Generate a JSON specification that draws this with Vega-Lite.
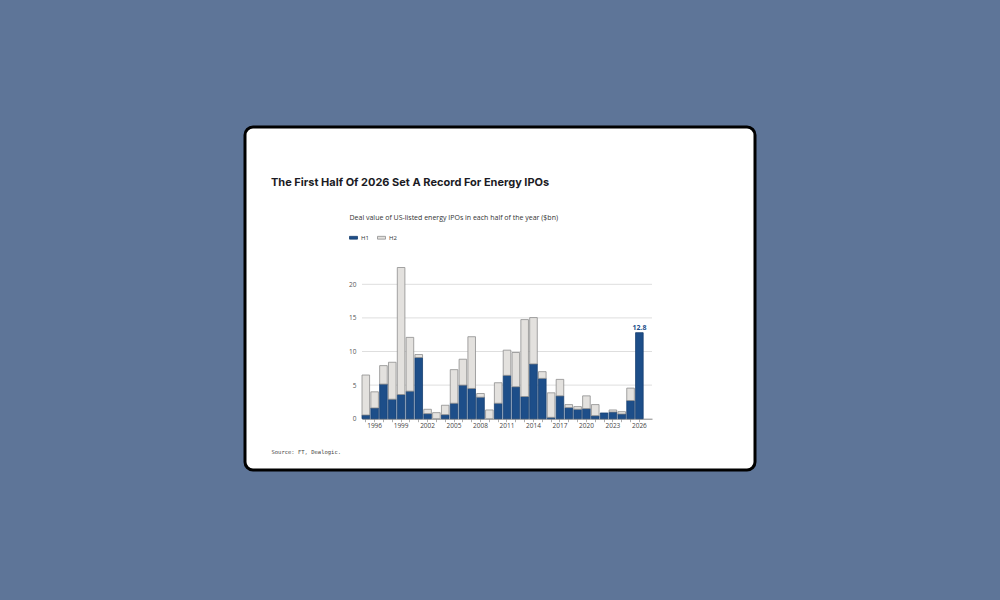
{
  "$schema": "https://vega.github.io/schema/vega-lite/v6.json",
  "width": 510,
  "height": 343,
  "autosize": {"type": "none"},
  "padding": {"left": 245, "top": 127, "right": 245, "bottom": 130},
  "background": "#5e7598",
  "view": {"fill": "#ffffff", "stroke": "#000000", "strokeWidth": 3, "cornerRadius": 8},
  "title": {
    "text": "The First Half Of 2026 Set A Record For Energy IPOs",
    "anchor": "start",
    "frame": "group",
    "dx": 26,
    "offset": -61,
    "font": "Inter",
    "fontSize": 11,
    "fontWeight": "bold",
    "color": "#1b1b24"
  },
  "datasets": {
    "ipo": [
      {"year": 1995, "half": "H1", "value": 0.55}, {"year": 1995, "half": "H2", "value": 5.95},
      {"year": 1996, "half": "H1", "value": 1.6}, {"year": 1996, "half": "H2", "value": 2.4},
      {"year": 1997, "half": "H1", "value": 5.15}, {"year": 1997, "half": "H2", "value": 2.75},
      {"year": 1998, "half": "H1", "value": 2.9}, {"year": 1998, "half": "H2", "value": 5.5},
      {"year": 1999, "half": "H1", "value": 3.6}, {"year": 1999, "half": "H2", "value": 18.9},
      {"year": 2000, "half": "H1", "value": 4.1}, {"year": 2000, "half": "H2", "value": 8.0},
      {"year": 2001, "half": "H1", "value": 9.1}, {"year": 2001, "half": "H2", "value": 0.45},
      {"year": 2002, "half": "H1", "value": 0.75}, {"year": 2002, "half": "H2", "value": 0.65},
      {"year": 2003, "half": "H2", "value": 0.9},
      {"year": 2004, "half": "H1", "value": 0.6}, {"year": 2004, "half": "H2", "value": 1.4},
      {"year": 2005, "half": "H1", "value": 2.3}, {"year": 2005, "half": "H2", "value": 5.0},
      {"year": 2006, "half": "H1", "value": 5.0}, {"year": 2006, "half": "H2", "value": 3.85},
      {"year": 2007, "half": "H1", "value": 4.5}, {"year": 2007, "half": "H2", "value": 7.7},
      {"year": 2008, "half": "H1", "value": 3.2}, {"year": 2008, "half": "H2", "value": 0.55},
      {"year": 2009, "half": "H2", "value": 1.3},
      {"year": 2010, "half": "H1", "value": 2.3}, {"year": 2010, "half": "H2", "value": 3.05},
      {"year": 2011, "half": "H1", "value": 6.45}, {"year": 2011, "half": "H2", "value": 3.75},
      {"year": 2012, "half": "H1", "value": 4.75}, {"year": 2012, "half": "H2", "value": 5.1},
      {"year": 2013, "half": "H1", "value": 3.3}, {"year": 2013, "half": "H2", "value": 11.45},
      {"year": 2014, "half": "H1", "value": 8.15}, {"year": 2014, "half": "H2", "value": 6.9},
      {"year": 2015, "half": "H1", "value": 6.0}, {"year": 2015, "half": "H2", "value": 1.0},
      {"year": 2016, "half": "H1", "value": 0.2}, {"year": 2016, "half": "H2", "value": 3.65},
      {"year": 2017, "half": "H1", "value": 3.4}, {"year": 2017, "half": "H2", "value": 2.45},
      {"year": 2018, "half": "H1", "value": 1.65}, {"year": 2018, "half": "H2", "value": 0.45},
      {"year": 2019, "half": "H1", "value": 1.4}, {"year": 2019, "half": "H2", "value": 0.4},
      {"year": 2020, "half": "H1", "value": 1.5}, {"year": 2020, "half": "H2", "value": 1.9},
      {"year": 2021, "half": "H1", "value": 0.45}, {"year": 2021, "half": "H2", "value": 1.65},
      {"year": 2022, "half": "H1", "value": 0.85},
      {"year": 2023, "half": "H1", "value": 1.0}, {"year": 2023, "half": "H2", "value": 0.3},
      {"year": 2024, "half": "H1", "value": 0.7}, {"year": 2024, "half": "H2", "value": 0.35},
      {"year": 2025, "half": "H1", "value": 2.7}, {"year": 2025, "half": "H2", "value": 1.85},
      {"year": 2026, "half": "H1", "value": 12.8}
    ],
    "grid": [{"value": 5}, {"value": 10}, {"value": 15}, {"value": 20}]
  },
  "encoding": {
    "x": {
      "field": "year",
      "type": "ordinal",
      "scale": {
        "type": "band",
        "domain": [1995, 1996, 1997, 1998, 1999, 2000, 2001, 2002, 2003, 2004, 2005, 2006, 2007, 2008, 2009, 2010, 2011, 2012, 2013, 2014, 2015, 2016, 2017, 2018, 2019, 2020, 2021, 2022, 2023, 2024, 2025, 2026, 2027],
        "range": [117, 407],
        "paddingInner": 0.14,
        "paddingOuter": 0
      },
      "axis": {
        "title": "Source: FT, Dealogic.",
        "offset": -51.3,
        "values": [1995, 1996, 1997, 1998, 1999, 2000, 2001, 2002, 2003, 2004, 2005, 2006, 2007, 2008, 2009, 2010, 2011, 2012, 2013, 2014, 2015, 2016, 2017, 2018, 2019, 2020, 2021, 2022, 2023, 2024, 2025, 2026],
        "labelExpr": "(datum.value - 1996) % 3 == 0 ? datum.label : ''",
        "labelAngle": 0,
        "labelFont": "Open Sans",
        "labelFontSize": 6.5,
        "labelColor": "#444444",
        "labelPadding": 1,
        "tickColor": "#b0b0b0",
        "tickSize": 3,
        "domainColor": "#888888",
        "grid": false,
        "titleX": 26,
        "titleY": 33,
        "titleAlign": "left",
        "titleBaseline": "middle",
        "titleFont": "DejaVu Sans Mono",
        "titleFontSize": 5.5,
        "titleFontWeight": "normal",
        "titleColor": "#444444"
      }
    },
    "y": {
      "field": "value",
      "type": "quantitative",
      "scale": {"domain": [0, 20], "range": [291.7, 157.3], "nice": false, "zero": true},
      "axis": {
        "title": "Deal value of US-listed energy IPOs in each half of the year ($bn)",
        "offset": -117,
        "values": [0, 5, 10, 15, 20],
        "domain": false,
        "ticks": false,
        "grid": false,
        "labelPadding": 6,
        "labelFont": "Open Sans",
        "labelFontSize": 6.5,
        "labelColor": "#555555",
        "titleAngle": 0,
        "titleAlign": "left",
        "titleBaseline": "middle",
        "titleX": -13,
        "titleY": 90.3,
        "titleFont": "Open Sans",
        "titleFontSize": 7,
        "titleFontWeight": "normal",
        "titleColor": "#333333"
      }
    }
  },
  "layer": [
    {
      "data": {"name": "grid"},
      "mark": {"type": "rule", "color": "#dedede", "strokeWidth": 1},
      "encoding": {
        "x": {"datum": 1995, "type": "ordinal", "bandPosition": 0},
        "x2": {"datum": 2027, "bandPosition": 1}
      }
    },
    {
      "data": {"name": "ipo"},
      "mark": {"type": "bar", "strokeWidth": 0.8},
      "encoding": {
        "order": {"field": "half", "sort": "ascending"},
        "fill": {
          "field": "half",
          "type": "nominal",
          "scale": {"domain": ["H1", "H2"], "range": ["#1d4e89", "#e3e1de"]},
          "legend": {
            "orient": "none",
            "legendX": 104,
            "legendY": 106,
            "direction": "horizontal",
            "title": null,
            "symbolType": "M-1,-0.35H1V0.35H-1Z",
            "symbolSize": 64,
            "symbolStrokeWidth": 0.8,
            "labelFont": "Open Sans",
            "labelFontSize": 6,
            "labelColor": "#333333",
            "labelOffset": 3,
            "columnPadding": 6
          }
        },
        "stroke": {
          "field": "half",
          "type": "nominal",
          "scale": {"domain": ["H1", "H2"], "range": ["#173f70", "#8e8e8e"]}
        }
      }
    },
    {
      "data": {"name": "ipo"},
      "transform": [{"filter": "datum.year == 2026"}],
      "mark": {"type": "text", "baseline": "middle", "dy": -5, "font": "Open Sans", "fontSize": 7, "fontWeight": "bold", "color": "#1d4e89"},
      "encoding": {
        "text": {"field": "value", "type": "quantitative", "format": ".1f"}
      }
    }
  ]
}
